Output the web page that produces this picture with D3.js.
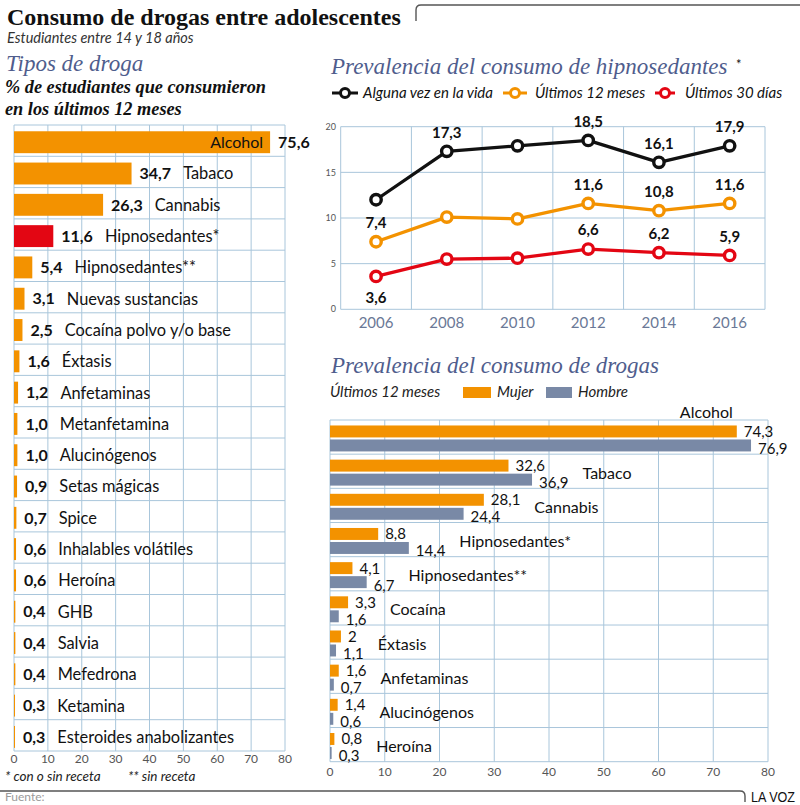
<!DOCTYPE html>
<html><head><meta charset="utf-8">
<script src="https://cdn.jsdelivr.net/npm/d3@7"></script>
<style>
html,body{margin:0;padding:0;background:#fff;}
svg{display:block;}
</style>
</head><body>
<svg id="chart" width="800" height="805"></svg>
<script>
// ---------- DATA ----------
const drugNames = ["Alcohol","Tabaco","Cannabis","Hipnosedantes*","Hipnosedantes**","Nuevas sustancias","Cocaína polvo y/o base","Éxtasis","Anfetaminas","Metanfetamina","Alucinógenos","Setas mágicas","Spice","Inhalables volátiles","Heroína","GHB","Salvia","Mefedrona","Ketamina","Esteroides anabolizantes"];
const drugValues = [75.6,34.7,26.3,11.6,5.4,3.1,2.5,1.6,1.2,1.0,1.0,0.9,0.7,0.6,0.6,0.4,0.4,0.4,0.3,0.3];
const drugHighlight = "Hipnosedantes*";
const leftTicks = [0,10,20,30,40,50,60,70,80];

const years = ["2006","2008","2010","2012","2014","2016"];
const lifetime = [12.0,17.3,17.9,18.5,16.1,17.9];
const last12m = [7.4,10.1,9.9,11.6,10.8,11.6];
const last30d = [3.6,5.5,5.6,6.6,6.2,5.9];
const lifetimeShow = [false,true,false,true,true,true];
const last12mShow = [true,false,false,true,true,true];
const last30dShow = [true,false,false,true,true,true];
const last30dBelow = [true,false,false,false,false,false];
const lineTicks = [0,5,10,15,20];
const seriesNames = ["Alguna vez en la vida","Últimos 12 meses","Últimos 30 días"];

const sexCats = ["Alcohol","Tabaco","Cannabis","Hipnosedantes*","Hipnosedantes**","Cocaína","Éxtasis","Anfetaminas","Alucinógenos","Heroína"];
const mujer = [74.3,32.6,28.1,8.8,4.1,3.3,2,1.6,1.4,0.8];
const hombre = [76.9,36.9,24.4,14.4,6.7,1.6,1.1,0.7,0.6,0.3];
const sexTicks = [0,10,20,30,40,50,60,70,80];

// ---------- STYLE ----------
const ORANGE = "#f39200", RED = "#e30613", SLATE = "#7989a6", GRID = "#a9c6db", HEAD = "#4f5d8d";
const SANS = "Lato, 'Open Sans', sans-serif";
const SERIF = "'Liberation Serif', 'DejaVu Serif', serif";
const fmt = v => d3.format(".1f")(v).replace(".", ",");
const fmtN = v => String(v).replace(".", ",");

const svg = d3.select("#chart");

// ---------- HEADER ----------
svg.append("text").attr("x",7).attr("y",25).attr("font-family",SERIF).attr("font-weight","bold")
  .attr("font-size",24).attr("fill","#111").text("Consumo de drogas entre adolescentes");
svg.append("path").attr("d","M416,21 L416,10 Q416,5 421,5 L800,5").attr("fill","none").attr("stroke","#555").attr("stroke-width",1.4);
svg.append("text").attr("x",7).attr("y",43).attr("font-family",SANS).attr("font-style","italic")
  .attr("font-size",14.5).attr("fill","#333").text("Estudiantes entre 14 y 18 años");

svg.append("text").attr("x",6).attr("y",71).attr("font-family",SERIF).attr("font-style","italic")
  .attr("font-size",23).attr("fill",HEAD).text("Tipos de droga");
svg.append("text").attr("x",5).attr("y",93).attr("font-family",SERIF).attr("font-style","italic").attr("font-weight","bold")
  .attr("font-size",18.3).attr("fill","#111").text("% de estudiantes que consumieron");
svg.append("text").attr("x",5).attr("y",115).attr("font-family",SERIF).attr("font-style","italic").attr("font-weight","bold")
  .attr("font-size",18.3).attr("fill","#111").text("en los últimos 12 meses");

// ---------- LEFT BAR CHART ----------
{
  const x = d3.scaleLinear().domain([0,80]).range([14,285]);
  const y = d3.scaleBand().domain(drugNames).range([125,751]).padding(0);
  const g = svg.append("g");
  g.selectAll(".vg").data(leftTicks).join("line")
    .attr("x1",d=>x(d)).attr("x2",d=>x(d)).attr("y1",125).attr("y2",751)
    .attr("stroke",GRID).attr("stroke-width",1);
  const hb = drugNames.map(d=>y(d)).concat([751]);
  g.selectAll(".hg").data(hb).join("line")
    .attr("x1",x(0)).attr("x2",x(80)).attr("y1",d=>d).attr("y2",d=>d)
    .attr("stroke",GRID).attr("stroke-width",1);
  const data = drugNames.map((n,i)=>({n,v:drugValues[i]}));
  g.selectAll(".bar").data(data).join("rect")
    .attr("x",x(0)).attr("y",d=>y(d.n)+y.step()*0.2).attr("height",y.step()*0.7)
    .attr("width",d=>x(d.v)-x(0)).attr("fill",d=>d.n===drugHighlight?RED:ORANGE);
  data.forEach((d,i)=>{
    const cy = y(d.n)+y.step()*0.55;
    const end = x(d.v);
    const vx = Math.max(end+8, 21);
    const vt = g.append("text").attr("x",vx).attr("y",cy).attr("dy","0.36em")
      .attr("font-family",SANS).attr("font-weight","bold").attr("font-size",16).attr("fill","#111").text(fmt(d.v));
    if (i===0) {
      g.append("text").attr("x",end-7).attr("y",cy).attr("dy","0.36em").attr("text-anchor","end")
        .attr("font-family",SANS).attr("font-size",16).attr("fill","#111").text(d.n);
    } else {
      const w = vt.node().getComputedTextLength();
      g.append("text").attr("x",vx+w+12).attr("y",cy).attr("dy","0.36em")
        .attr("font-family",SANS).attr("font-size",16.4).attr("fill","#111").text(d.n);
    }
  });
  g.selectAll(".tl").data(leftTicks).join("text")
    .attr("x",d=>x(d)).attr("y",763).attr("text-anchor","middle")
    .attr("font-family",SANS).attr("font-size",12).attr("fill","#555").text(d=>d);
  svg.append("text").attr("x",5).attr("y",781).attr("font-family",SANS).attr("font-style","italic")
    .attr("font-size",13.5).attr("fill","#222").text("* con o sin receta");
  svg.append("text").attr("x",128).attr("y",781).attr("font-family",SANS).attr("font-style","italic")
    .attr("font-size",13.5).attr("fill","#222").text("** sin receta");
}

// ---------- LINE CHART ----------
{
  svg.append("text").attr("x",331).attr("y",74).attr("font-family",SERIF).attr("font-style","italic")
    .attr("font-size",23).attr("fill",HEAD).text("Prevalencia del consumo de hipnosedantes");
  svg.append("text").attr("x",736).attr("y",69).attr("font-family",SANS)
    .attr("font-size",13).attr("fill","#111").text("*");
  const colors = ["#111",ORANGE,RED];
  const legX = [[332,358,363],[503,527,535],[655,675,685]];
  seriesNames.forEach((s,i)=>{
    const [a,b,t] = legX[i];
    svg.append("line").attr("x1",a).attr("x2",b).attr("y1",93).attr("y2",93).attr("stroke",colors[i]).attr("stroke-width",3);
    svg.append("circle").attr("cx",(a+b)/2).attr("cy",93).attr("r",4.5).attr("fill","#fff").attr("stroke",colors[i]).attr("stroke-width",3);
    svg.append("text").attr("x",t).attr("y",98).attr("font-family",SANS).attr("font-style","italic")
      .attr("font-size",15).attr("fill","#111").text(s);
  });
  const x = d3.scaleBand().domain(years).range([340.7,765]);
  const y = d3.scaleLinear().domain([0,20]).range([309.3,126.7]);
  const g = svg.append("g");
  g.selectAll(".hg").data(lineTicks).join("line")
    .attr("x1",340.7).attr("x2",765).attr("y1",d=>y(d)).attr("y2",d=>y(d)).attr("stroke",GRID);
  const vb = years.map(d=>x(d)).concat([765]);
  g.selectAll(".vg").data(vb).join("line")
    .attr("x1",d=>d).attr("x2",d=>d).attr("y1",y(20)).attr("y2",y(0)).attr("stroke",GRID);
  g.selectAll(".yt").data(lineTicks).join("text")
    .attr("x",336).attr("y",d=>y(d)).attr("dy","0.35em").attr("text-anchor","end")
    .attr("font-family",SANS).attr("font-size",9).attr("fill","#555").text(d=>d);
  g.selectAll(".xt").data(years).join("text")
    .attr("x",d=>x(d)+x.bandwidth()/2).attr("y",328).attr("text-anchor","middle")
    .attr("font-family",SANS).attr("font-size",15).attr("fill","#6a7896").text(d=>d);
  const cx = d => x(d)+x.bandwidth()/2;
  const series = [
    {vals:lifetime, show:lifetimeShow, below:years.map(()=>false), c:colors[0]},
    {vals:last12m, show:last12mShow, below:years.map(()=>false), c:colors[1]},
    {vals:last30d, show:last30dShow, below:last30dBelow, c:colors[2]}
  ];
  const line = d3.line().x((d,i)=>cx(years[i])).y(d=>y(d));
  series.forEach(s=>{
    g.append("path").datum(s.vals).attr("d",line).attr("fill","none").attr("stroke",s.c).attr("stroke-width",3.3).attr("stroke-linejoin","round");
  });
  series.forEach(s=>{
    const pts = s.vals.map((v,i)=>({v, yr:years[i], show:s.show[i], below:s.below[i]}));
    g.selectAll(null).data(pts).join("circle")
      .attr("cx",d=>cx(d.yr)).attr("cy",d=>y(d.v)).attr("r",5.2)
      .attr("fill","#fff").attr("stroke",s.c).attr("stroke-width",3.4);
    g.selectAll(null).data(pts.filter(d=>d.show)).join("text")
      .attr("x",d=>cx(d.yr)).attr("y",d=>d.below?y(d.v)+21:y(d.v)-19).attr("dy","0.36em")
      .attr("text-anchor","middle").attr("font-family",SANS).attr("font-weight","bold").attr("font-size",15)
      .attr("fill","#111").text(d=>fmt(d.v));
  });
}

// ---------- SEX BAR CHART ----------
{
  svg.append("text").attr("x",331).attr("y",373).attr("font-family",SERIF).attr("font-style","italic")
    .attr("font-size",23).attr("fill",HEAD).text("Prevalencia del consumo de drogas");
  svg.append("text").attr("x",330).attr("y",397).attr("font-family",SANS).attr("font-style","italic")
    .attr("font-size",15).attr("fill","#222").text("Últimos 12 meses");
  svg.append("rect").attr("x",463).attr("y",387).attr("width",28).attr("height",11).attr("fill",ORANGE);
  svg.append("text").attr("x",497).attr("y",397).attr("font-family",SANS).attr("font-style","italic")
    .attr("font-size",15).attr("fill","#222").text("Mujer");
  svg.append("rect").attr("x",546).attr("y",387).attr("width",26).attr("height",11).attr("fill",SLATE);
  svg.append("text").attr("x",578).attr("y",397).attr("font-family",SANS).attr("font-style","italic")
    .attr("font-size",15).attr("fill","#222").text("Hombre");

  const x = d3.scaleLinear().domain([0,80]).range([330,768]);
  const y = d3.scaleBand().domain(sexCats).range([420,761.7]);
  const g = svg.append("g");
  g.selectAll(".vg").data(sexTicks).join("line")
    .attr("x1",d=>x(d)).attr("x2",d=>x(d)).attr("y1",420).attr("y2",761.7).attr("stroke",GRID);
  const hb = sexCats.map(d=>y(d)).concat([761.7]);
  g.selectAll(".hg").data(hb).join("line")
    .attr("x1",x(0)).attr("x2",x(80)).attr("y1",d=>d).attr("y2",d=>d).attr("stroke",GRID);
  g.selectAll(".tl").data(sexTicks).join("text")
    .attr("x",d=>x(d)).attr("y",776).attr("text-anchor","middle")
    .attr("font-family",SANS).attr("font-size",12).attr("fill","#555").text(d=>d);
  const s = y.step();
  sexCats.forEach((c,i)=>{
    const top = y(c);
    const m = mujer[i], h = hombre[i];
    g.append("rect").attr("x",x(0)).attr("y",top+s*0.16).attr("width",x(m)-x(0)).attr("height",s*0.35).attr("fill",ORANGE);
    g.append("rect").attr("x",x(0)).attr("y",top+s*0.57).attr("width",x(h)-x(0)).attr("height",s*0.35).attr("fill",SLATE);
    const mt = g.append("text").attr("x",x(m)+7).attr("y",top+s*0.335).attr("dy","0.36em")
      .attr("font-family",SANS).attr("font-size",15).attr("fill","#111").text(fmtN(m));
    const ht = g.append("text").attr("x",x(h)+7).attr("y",top+s*0.745+3).attr("dy","0.36em")
      .attr("font-family",SANS).attr("font-size",15).attr("fill","#111").text(fmtN(h));
    if (m > 60) {
      g.append("text").attr("x",x(m)-4).attr("y",top-8).attr("dy","0.36em").attr("text-anchor","end")
        .attr("font-family",SANS).attr("font-size",16).attr("fill","#111").text(c);
    } else {
      const e = Math.max(x(m)+7+mt.node().getComputedTextLength(), x(h)+7+ht.node().getComputedTextLength());
      g.append("text").attr("x",e+14).attr("y",top+s*0.55).attr("dy","0.36em")
        .attr("font-family",SANS).attr("font-size",16).attr("fill","#111").text(c);
    }
  });
}

// ---------- FOOTER ----------
svg.append("path").attr("d","M0,791 L740,791 Q745,791 745,796 L745,802").attr("fill","none").attr("stroke","#555").attr("stroke-width",1.4);
svg.append("text").attr("x",751).attr("y",802).attr("font-family","'Liberation Sans', sans-serif")
  .attr("font-size",14).attr("textLength",44).attr("lengthAdjust","spacingAndGlyphs").attr("fill","#111").text("LA VOZ");
svg.append("text").attr("x",5).attr("y",801).attr("font-family",SANS).attr("font-size",12).attr("fill","#9a9a9a").text("Fuente:");
</script>
</body></html>
